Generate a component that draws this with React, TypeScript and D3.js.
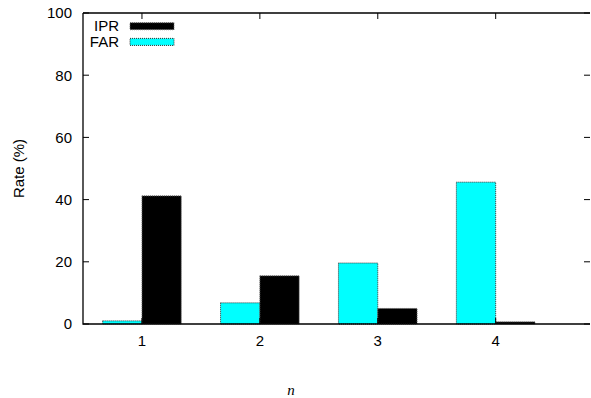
import React from "react";
import * as d3 from "d3";

const categories = [1, 2, 3, 4];
const farValues = [1.0, 6.8, 19.6, 45.6];
const iprValues = [41.2, 15.5, 5.0, 0.7];
const yTicks = [0, 20, 40, 60, 80, 100];
const seriesNames = ["IPR", "FAR"];

const W = 591, H = 398;
const left = 83, right = 590, top = 13, bottom = 324;

export default function App() {
  const x = d3.scaleLinear().domain([0.5, 4.8]).range([left, right]);
  const y = d3.scaleLinear().domain([0, 100]).range([bottom, top]);
  const bw = x(1 + 1 / 3) - x(1);
  const font = "'Liberation Sans', Arial, sans-serif";
  const fs = 15;
  const tl = 6;
  return (
    <svg width={W} height={H} style={{ position: "absolute", left: 0, top: 0 }}>
      <rect width={W} height={H} fill="#fff" />
      {categories.map((c, i) => (
        <g key={c}>
          <rect x={x(c) - bw} y={y(farValues[i])} width={bw} height={bottom - y(farValues[i])}
            fill="#00ffff" stroke="#333" strokeWidth={1} strokeDasharray="1,1" />
          <rect x={x(c)} y={y(iprValues[i])} width={bw} height={bottom - y(iprValues[i])}
            fill="#000" stroke="#666" strokeWidth={1} strokeDasharray="1,1" />
        </g>
      ))}
      <path d={`M${left},${top}H${right}M${left},${top}V${bottom}H${right}`} fill="none" stroke="#000" strokeWidth={1.3} />
      {yTicks.map(t => (
        <g key={t}>
          <line x1={left} x2={left + tl} y1={y(t)} y2={y(t)} stroke="#000" />
          <line x1={right - tl} x2={right} y1={y(t)} y2={y(t)} stroke="#000" />
          <text x={72} y={y(t)} dy="0.36em" textAnchor="end" fontFamily={font} fontSize={fs}>{t}</text>
        </g>
      ))}
      {categories.map(c => (
        <g key={c}>
          <line x1={x(c)} x2={x(c)} y1={bottom} y2={bottom - tl} stroke="#000" />
          <line x1={x(c)} x2={x(c)} y1={top} y2={top + tl} stroke="#000" />
          <text x={x(c)} y={346} textAnchor="middle" fontFamily={font} fontSize={fs}>{c}</text>
        </g>
      ))}
      <text transform={`translate(24,${(top + bottom) / 2}) rotate(-90)`} textAnchor="middle" fontFamily={font} fontSize={fs}>Rate (%)</text>
      <text x={291} y={395} textAnchor="middle" fontFamily="'Liberation Serif', serif" fontStyle="italic" fontSize={fs}>n</text>
      {seriesNames.map((s, i) => (
        <g key={s}>
          <text x={119} y={26 + i * 15.7} dy="0.36em" textAnchor="end" fontFamily={font} fontSize={fs}>{s}</text>
          <rect x={130} y={22.7 + i * 15.7} width={44} height={7} fill={s === "IPR" ? "#000" : "#00ffff"}
            stroke={s === "IPR" ? "#666" : "#333"} strokeDasharray="1,1" />
        </g>
      ))}
    </svg>
  );
}
